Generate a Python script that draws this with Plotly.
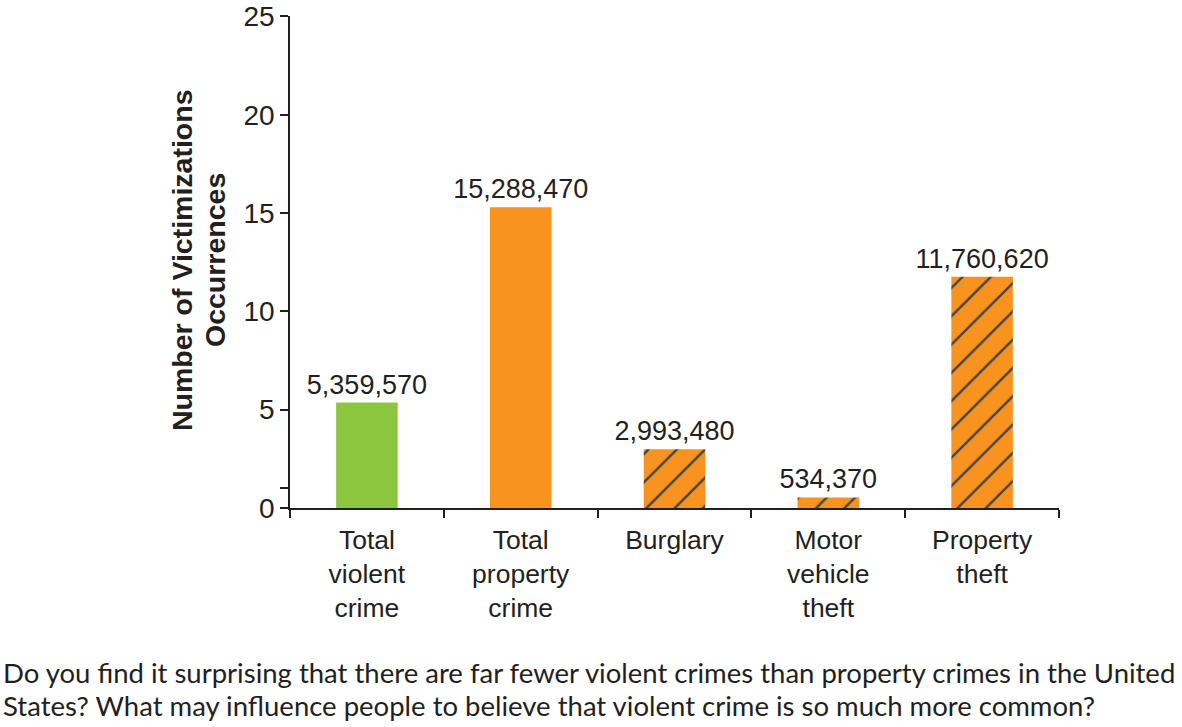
import plotly.graph_objects as go

categories = ["Total<br>violent<br>crime", "Total<br>property<br>crime", "Burglary",
              "Motor<br>vehicle<br>theft", "Property<br>theft"]
values = [5359570, 15288470, 2993480, 534370, 11760620]
colors = ["#8CC63F", "#F7931E", "#F7931E", "#F7931E", "#F7931E"]
hatched = ["", "", "/", "/", "/"]
y_tickvals = [0, 1, 5, 10, 15, 20, 25]
y_ticktext = ["0", "", "5", "10", "15", "20", "25"]
y_title_lines = ["Number of Victimizations", "Occurrences"]
caption_lines = [
    "Do you find it surprising that there are far fewer violent crimes than property crimes in the United",
    "States? What may influence people to believe that violent crime is so much more common?",
]

W, H = 1182, 727
L, R, T, B = 290, 123, 16, 219
plot_w = W - L - R
plot_h = H - T - B

fig = go.Figure()
fig.add_trace(go.Bar(
    x=categories,
    y=[v / 1e6 for v in values],
    text=[f"{v:,}" for v in values],
    textposition="outside",
    constraintext="none",
    textfont=dict(family="Liberation Sans, Arial", size=27, color="#231F20"),
    cliponaxis=False,
    width=0.4,
    marker=dict(
        color=colors,
        line=dict(width=0),
        pattern=dict(shape=hatched, fillmode="overlay",
                     fgcolor="#231F20", fgopacity=1, size=20, solidity=0.12),
    ),
    hoverinfo="skip",
))

fig.update_layout(
    width=W, height=H,
    margin=dict(l=L, r=R, t=T, b=B),
    plot_bgcolor="white", paper_bgcolor="white",
    showlegend=False,
    font=dict(family="Liberation Sans, Arial", color="#231F20"),
    xaxis=dict(
        type="category", range=[-0.5, 4.5],
        automargin=False,
        showline=True, linecolor="#231F20", linewidth=1.5,
        ticks="outside", tickson="boundaries", ticklen=8, tickcolor="#231F20", tickwidth=1.5,
        tickfont=dict(size=26.5, color="#231F20"),
        ticklabelstandoff=7,
        showgrid=False, zeroline=False,
    ),
    yaxis=dict(
        range=[0, 25.02],
        automargin=False,
        tickvals=y_tickvals, ticktext=y_ticktext,
        showline=True, linecolor="#231F20", linewidth=1.5,
        ticks="outside", ticklen=8, tickcolor="#231F20", tickwidth=1.5,
        tickfont=dict(size=28, color="#231F20"),
        ticklabeloverflow="allow",
        showgrid=False, zeroline=False,
    ),
)

for i, line in enumerate(y_title_lines):
    xpx = 182 + 33 * i
    fig.add_annotation(
        text=f"<b>{line}</b>", xref="paper", yref="paper",
        x=(xpx - L) / plot_w, y=(H - B - 260) / plot_h,
        xanchor="center", yanchor="middle", textangle=-90, showarrow=False,
        font=dict(family="Liberation Sans, Arial", size=28.5, color="#231F20"),
    )

for i, line in enumerate(caption_lines):
    ypx = 672 + 33 * i
    fig.add_annotation(
        text=line, xref="paper", yref="paper",
        x=(1 - L) / plot_w, y=(H - B - ypx) / plot_h,
        xanchor="left", yanchor="middle", showarrow=False,
        font=dict(family="Lato", size=27.5, color="#231F20"),
    )

fig.write_html("out.html")
